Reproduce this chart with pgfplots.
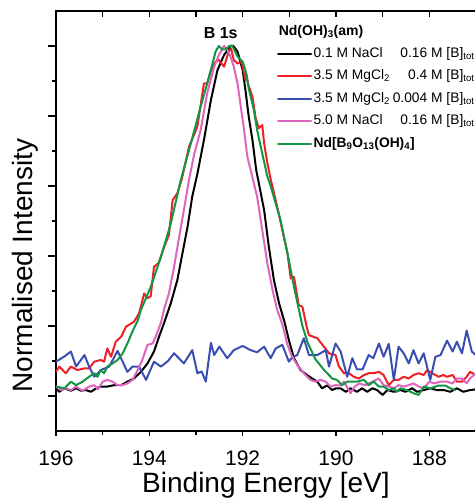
\documentclass[border=0pt]{standalone}
\usepackage{pgfplots}
\pgfplotsset{compat=1.18}
\usepackage{fontspec}
\setmainfont{Liberation Sans}
\definecolor{cblack}{RGB}{0,0,0}
\definecolor{cred}{RGB}{236,32,38}
\definecolor{cblue}{RGB}{58,78,178}
\definecolor{cpink}{RGB}{222,100,190}
\definecolor{cgreen}{RGB}{18,150,70}
\pgfplotsset{common/.style={
  scale only axis, width=420pt, height=420pt,
  xmin=187, xmax=196, ymin=-0.1, ymax=1.1, x dir=reverse,
  every tick/.style={black, line width=1.2pt},
}}
\tikzset{pl/.style={line width=2pt, line join=round, line cap=round}}
\begin{document}
\begin{tikzpicture}[line width=2pt]
\begin{axis}[common,
  axis line style={line width=1.4pt},
  xtick={188,190,192,194,196}, minor xtick={187,189,191,193,195},
  ytick=\empty,
  xtick pos=bottom, tick align=outside,
  major tick length=5pt, minor tick length=3.5pt,
  /pgf/number format/assume math mode=true,
  xticklabel style={font=\fontsize{21}{24}\selectfont, anchor=base, yshift=-29pt},
  xlabel={Binding Energy [eV]},
  ylabel={Normalised Intensity},
  xlabel style={font=\fontsize{28}{31}\selectfont, at={(axis description cs:0.5,0)}, anchor=center, yshift=-54pt},
  ylabel style={font=\fontsize{28}{31}\selectfont, at={(axis description cs:-0.074,0.394)}, anchor=center, rotate=0},
  legend style={draw=none, fill=none, at={(rel axis cs:0.526,0.918)}, anchor=north west, inner sep=0pt,
    font=\fontsize{13.8}{16}\selectfont, row sep=6.5pt,
    nodes={inner xsep=1.5pt, inner ysep=1pt, text height=10.5pt, text depth=3.5pt}},
  legend cell align=left,
  legend image code/.code={\draw[#1, line width=2pt] (0pt,0pt) -- (33pt,0pt);},
]
\addplot[cblack, pl] coordinates {
(196.0,0.022)(195.93,0.012)(195.82,0.022)(195.68,0.015)(195.57,0.022)(195.46,0.015)(195.36,0.017)(195.25,0.012)(195.14,0.022)(195.04,0.027)(194.9,0.027)(194.75,0.031)(194.6,0.031)(194.47,0.041)(194.33,0.05)(194.18,0.069)(194.04,0.093)(193.9,0.127)(193.79,0.17)(193.68,0.21)(193.54,0.265)(193.4,0.331)(193.29,0.408)(193.18,0.484)(193.08,0.57)(192.97,0.635)(192.83,0.731)(192.68,0.846)(192.54,0.931)(192.4,0.974)(192.26,1.0)(192.2,1.0)(192.11,0.984)(192.0,0.931)(191.94,0.874)(191.87,0.798)(191.79,0.731)(191.71,0.646)(191.62,0.585)(191.54,0.531)(191.44,0.427)(191.33,0.331)(191.22,0.265)(191.1,0.21)(191.01,0.16)(190.9,0.108)(190.76,0.074)(190.62,0.06)(190.51,0.05)(190.4,0.041)(190.3,0.022)(190.19,0.03)(190.08,0.017)(190.0,0.022)(189.9,0.022)(189.79,0.012)(189.69,0.022)(189.55,0.012)(189.44,0.022)(189.33,0.012)(189.22,0.022)(189.12,0.017)(189.0,0.003)(188.9,0.017)(188.76,0.012)(188.62,0.017)(188.51,0.012)(188.37,0.022)(188.26,0.012)(188.12,0.017)(187.98,0.022)(187.84,0.017)(187.69,0.017)(187.55,0.012)(187.41,0.022)(187.27,0.012)(187.13,0.017)(187.0,0.019)
};
\addlegendentry{\hbox to 161pt{0.1 M NaCl\hfil 0.16 M [B]\textsubscript{tot}}}
\addplot[cred, pl] coordinates {
(196.0,0.069)(195.93,0.084)(195.79,0.065)(195.68,0.084)(195.54,0.074)(195.39,0.079)(195.29,0.079)(195.18,0.098)(195.04,0.103)(194.97,0.098)(194.9,0.136)(194.82,0.112)(194.72,0.155)(194.6,0.17)(194.5,0.198)(194.33,0.212)(194.22,0.236)(194.11,0.293)(194.04,0.279)(193.97,0.285)(193.9,0.369)(193.8,0.38)(193.68,0.427)(193.58,0.46)(193.5,0.56)(193.4,0.579)(193.3,0.622)(193.15,0.712)(192.97,0.77)(192.83,0.893)(192.76,0.893)(192.68,0.931)(192.58,0.955)(192.51,0.96)(192.4,0.941)(192.29,0.987)(192.25,0.993)(192.19,0.96)(192.11,0.95)(192.02,0.955)(191.94,0.903)(191.92,0.92)(191.88,0.89)(191.79,0.855)(191.72,0.793)(191.65,0.765)(191.58,0.774)(191.54,0.722)(191.47,0.665)(191.4,0.62)(191.26,0.541)(191.04,0.408)(190.97,0.336)(190.9,0.34)(190.8,0.26)(190.72,0.255)(190.62,0.193)(190.58,0.174)(190.4,0.165)(190.26,0.141)(190.15,0.122)(190.01,0.117)(189.94,0.085)(189.83,0.065)(189.72,0.065)(189.62,0.055)(189.51,0.05)(189.4,0.06)(189.3,0.065)(189.19,0.065)(189.08,0.069)(188.98,0.06)(188.87,0.031)(188.76,0.046)(188.66,0.046)(188.55,0.055)(188.44,0.05)(188.34,0.06)(188.23,0.065)(188.12,0.06)(188.05,0.074)(187.94,0.065)(187.8,0.055)(187.7,0.06)(187.62,0.055)(187.5,0.06)(187.41,0.041)(187.3,0.041)(187.2,0.055)(187.13,0.069)(187.0,0.06)
};
\addlegendentry{\hbox to 161pt{3.5 M MgCl\textsubscript{2}\hfil 0.4 M [B]\textsubscript{tot}}}
\addplot[cblue, pl] coordinates {
(196.0,0.098)(195.82,0.113)(195.68,0.127)(195.57,0.084)(195.39,0.117)(195.29,0.084)(195.18,0.055)(195.04,0.074)(194.86,0.084)(194.68,0.129)(194.47,0.069)(194.36,0.084)(194.22,0.084)(194.07,0.046)(193.9,0.098)(193.75,0.084)(193.6,0.1)(193.47,0.122)(193.26,0.093)(193.08,0.131)(192.97,0.065)(192.88,0.07)(192.79,0.041)(192.68,0.152)(192.61,0.117)(192.5,0.141)(192.33,0.108)(192.19,0.131)(192.0,0.143)(191.83,0.131)(191.69,0.125)(191.54,0.141)(191.4,0.108)(191.29,0.136)(191.15,0.146)(191.01,0.098)(190.94,0.11)(190.83,0.117)(190.69,0.165)(190.58,0.117)(190.4,0.117)(190.22,0.131)(190.15,0.084)(190.01,0.150)(189.9,0.127)(189.76,0.055)(189.65,0.108)(189.55,0.076)(189.43,0.076)(189.3,0.117)(189.2,0.108)(189.08,0.150)(188.98,0.112)(188.87,0.149)(188.76,0.046)(188.66,0.141)(188.55,0.122)(188.44,0.093)(188.34,0.131)(188.23,0.093)(188.12,0.122)(187.98,0.046)(187.87,0.112)(187.76,0.117)(187.62,0.158)(187.5,0.127)(187.41,0.155)(187.3,0.122)(187.2,0.187)(187.09,0.127)(187.0,0.117)
};
\addlegendentry{\hbox to 161pt{3.5 M MgCl\textsubscript{2}\hfil 0.004 M [B]\textsubscript{tot}}}
\addplot[cpink, pl] coordinates {
(196.0,0.027)(195.89,0.017)(195.79,0.022)(195.68,0.017)(195.57,0.027)(195.43,0.015)(195.29,0.027)(195.18,0.031)(195.1,0.019)(195.0,0.041)(194.9,0.046)(194.79,0.041)(194.68,0.031)(194.57,0.031)(194.47,0.036)(194.36,0.046)(194.25,0.074)(194.15,0.103)(194.04,0.146)(193.93,0.15)(193.86,0.17)(193.75,0.21)(193.68,0.25)(193.58,0.293)(193.47,0.369)(193.36,0.455)(193.26,0.531)(193.15,0.617)(193.04,0.69)(192.9,0.76)(192.76,0.865)(192.61,0.941)(192.51,0.974)(192.4,1.0)(192.33,0.99)(192.26,0.97)(192.19,0.941)(192.11,0.893)(192.04,0.827)(191.97,0.76)(191.9,0.684)(191.81,0.635)(191.69,0.57)(191.58,0.474)(191.47,0.379)(191.36,0.303)(191.26,0.246)(191.15,0.205)(191.04,0.146)(190.94,0.112)(190.83,0.089)(190.69,0.065)(190.55,0.046)(190.44,0.041)(190.33,0.046)(190.22,0.041)(190.12,0.027)(190.01,0.031)(189.9,0.03)(189.83,0.041)(189.69,0.008)(189.6,0.027)(189.5,0.036)(189.37,0.031)(189.22,0.041)(189.08,0.05)(188.98,0.031)(188.87,0.027)(188.76,0.022)(188.66,0.031)(188.55,0.027)(188.44,0.031)(188.34,0.036)(188.23,0.027)(188.12,0.022)(188.0,0.041)(187.9,0.036)(187.76,0.041)(187.62,0.041)(187.5,0.036)(187.41,0.05)(187.3,0.05)(187.2,0.036)(187.13,0.05)(187.0,0.065)
};
\addlegendentry{\hbox to 161pt{5.0 M NaCl\hfil 0.16 M [B]\textsubscript{tot}}}
\addplot[cgreen, pl] coordinates {
(196.0,0.027)(195.82,0.022)(195.68,0.041)(195.57,0.031)(195.43,0.041)(195.29,0.055)(195.18,0.065)(195.11,0.055)(195.04,0.074)(194.97,0.065)(194.9,0.084)(194.79,0.093)(194.68,0.103)(194.57,0.122)(194.47,0.15)(194.36,0.185)(194.25,0.215)(194.18,0.246)(193.97,0.312)(193.75,0.398)(193.54,0.493)(193.33,0.615)(193.11,0.722)(192.9,0.827)(192.72,0.912)(192.58,0.984)(192.51,1.0)(192.44,0.99)(192.36,0.99)(192.29,1.0)(192.22,1.0)(192.11,0.97)(192.0,0.955)(191.94,0.931)(191.87,0.879)(191.76,0.817)(191.69,0.76)(191.58,0.693)(191.47,0.627)(191.4,0.6)(191.19,0.503)(191.04,0.408)(190.9,0.312)(190.72,0.2)(190.6,0.15)(190.44,0.105)(190.26,0.075)(190.08,0.05)(189.98,0.046)(189.87,0.031)(189.76,0.041)(189.65,0.041)(189.55,0.041)(189.4,0.046)(189.3,0.031)(189.19,0.041)(189.08,0.027)(188.98,0.027)(188.87,0.017)(188.76,0.022)(188.7,0.012)(188.62,0.022)(188.48,0.017)(188.34,0.008)(188.23,0.003)(188.12,0.027)(187.98,0.022)(187.8,0.03)(187.66,0.03)(187.55,0.022)(187.45,0.017)
};
\addlegendentry{\textbf{Nd[B\textsubscript{9}O\textsubscript{13}(OH)\textsubscript{4}]}}
\node[font=\bfseries\fontsize{16}{18}\selectfont] at (axis cs:192.47,1.037) {B 1s};
\node[anchor=west, inner sep=0pt, font=\bfseries\fontsize{14}{16}\selectfont] at (axis cs:191.23,1.04) {Nd(OH)\textsubscript{3}(am)};
\end{axis}
% y ticks, left, outside
\begin{axis}[common, axis line style={draw=none},
  xtick=\empty, ytick={0,0.2,0.4,0.6,0.8,1.0}, minor ytick={0.1,0.3,0.5,0.7,0.9},
  yticklabels={}, ytick pos=left, tick align=outside,
  major tick length=8pt, minor tick length=4pt]
\end{axis}
% top x ticks, inside
\begin{axis}[common, axis line style={draw=none},
  ytick=\empty, xtick={187,188,...,196}, xticklabels={},
  xtick pos=top, tick align=inside, major tick length=6pt]
\end{axis}
\pgfresetboundingbox
\path ([xshift=-56pt,yshift=-69pt]current axis.south west) rectangle ([xshift=-1pt,yshift=11pt]current axis.north east);
\end{tikzpicture}
\end{document}
